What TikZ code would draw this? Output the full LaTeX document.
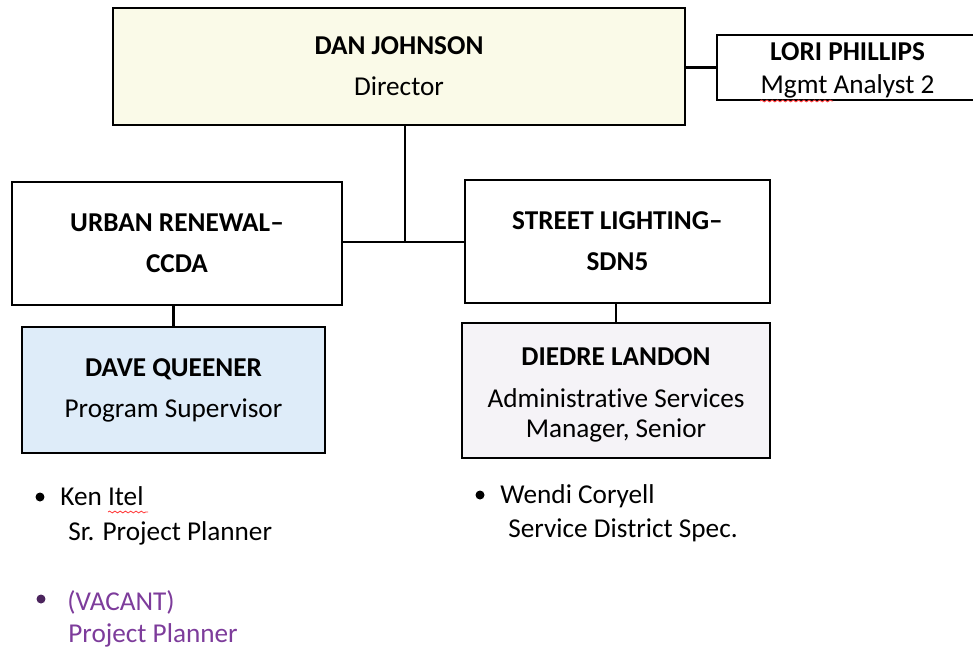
\documentclass[tikz,border=0pt]{standalone}
\usepackage{fontspec}
\setmainfont{Carlito}[Ligatures=NoCommon]
\usepackage{tikz}
\usetikzlibrary{positioning}
\usetikzlibrary{calc}
\usetikzlibrary{decorations.pathmorphing}
\pgfdeclarelayer{nodelayer}
\pgfdeclarelayer{edgelayer}
\pgfsetlayers{edgelayer,nodelayer,main}
\definecolor{dirfill}{RGB}{250,250,232}
\definecolor{supfill}{RGB}{222,236,249}
\definecolor{mgrfill}{RGB}{245,243,247}
\definecolor{vacant}{RGB}{125,60,155}
\tikzset{box/.style={shape=rectangle, draw=black, line width=1.6pt, inner sep=0pt,
align=center, font=\fontsize{15.5}{23.3}\selectfont}}
\tikzset{link/.style={draw=black, line width=1.6pt}}
\tikzset{dot/.style={shape=circle, fill=black, inner sep=0pt, minimum size=0.18cm}}
\tikzset{staff/.style={anchor=base west, inner sep=0pt, font=\fontsize{15.5}{18}\selectfont}}
\tikzset{squiggle/.style={draw=red!75, line width=0.5pt, decorate,
decoration={snake, amplitude=0.5pt, segment length=3pt}}}

\begin{document}
\begin{tikzpicture}[x=0.02cm, y=-0.02cm]
	\useasboundingbox (0,0) rectangle (973,649);
	\begin{pgfonlayer}{nodelayer}
		\node [style=box, fill=dirfill, minimum width=11.44cm, minimum height=2.34cm] (0) at (399, 66.5) {\textbf{DAN JOHNSON}\\Director};
		\node [style=box, minimum width=6.6cm, minimum height=2.46cm] (1) at (177, 243.5) {\textbf{URBAN RENEWAL–}\\\textbf{CCDA}};
		\node [style=box, minimum width=6.1cm, minimum height=2.46cm] (2) at (617.5, 241.5) {\textbf{STREET LIGHTING–}\\\textbf{SDN5}};
		\node [style=box, fill=supfill, minimum width=6.06cm, minimum height=2.52cm] (3) at (173.5, 390) {\textbf{DAVE QUEENER}\\Program Supervisor};
		\node [style=box, fill=mgrfill, minimum width=6.16cm, minimum height=2.7cm, font=\fontsize{15.5}{17}\selectfont] (4) at (616, 390.5) {\rule{0pt}{15.5pt}\textbf{DIEDRE LANDON}\\[6.8pt]Administrative Services\\Manager, Senior};
		\node [style=box, minimum width=5.22cm, minimum height=1.3cm, font=\fontsize{15.5}{18.8}\selectfont] (5) at (847.5, 67.5) {\rule{0pt}{14pt}\textbf{LORI PHILLIPS}\\Mgmt Analyst 2};
		\coordinate (10) at (405, 242);
		% staff under the supervisors
		\node [style=dot] (20) at (40, 497) {};
		\node [style=staff] (21) at (60, 505) {Ken Itel};
		\node [style=staff] (22) at (68, 540) {Sr. Project Planner};
		\node [style=dot, fill=vacant!60!black] (23) at (41, 599) {};
		\node [style=staff, text=vacant] (24) at (67, 610) {(VACANT)};
		\node [style=staff, text=vacant] (25) at (68, 642) {Project Planner};
		\node [style=dot] (26) at (480, 495) {};
		\node [style=staff] (27) at (500, 503) {Wendi Coryell};
		\node [style=staff] (28) at (508, 537) {Service District Spec.};
	\end{pgfonlayer}
	\begin{pgfonlayer}{edgelayer}
		\draw [style=link] (0.south -| 10) -- (10);
		\draw [style=link] (1.east |- 10) -- (2.west |- 10);
		\draw [style=link] (5.west -| 0.east) -- (5.west);
		\draw [style=link] (3.north) -- (3.north |- 1.south);
		\draw [style=link] (4.north) -- (4.north |- 2.south);
	\end{pgfonlayer}
	\draw [style=squiggle] (760, 101) -- (833, 101);
	\draw [style=squiggle] (108, 512) -- (148, 512);
\end{tikzpicture}
\end{document}
